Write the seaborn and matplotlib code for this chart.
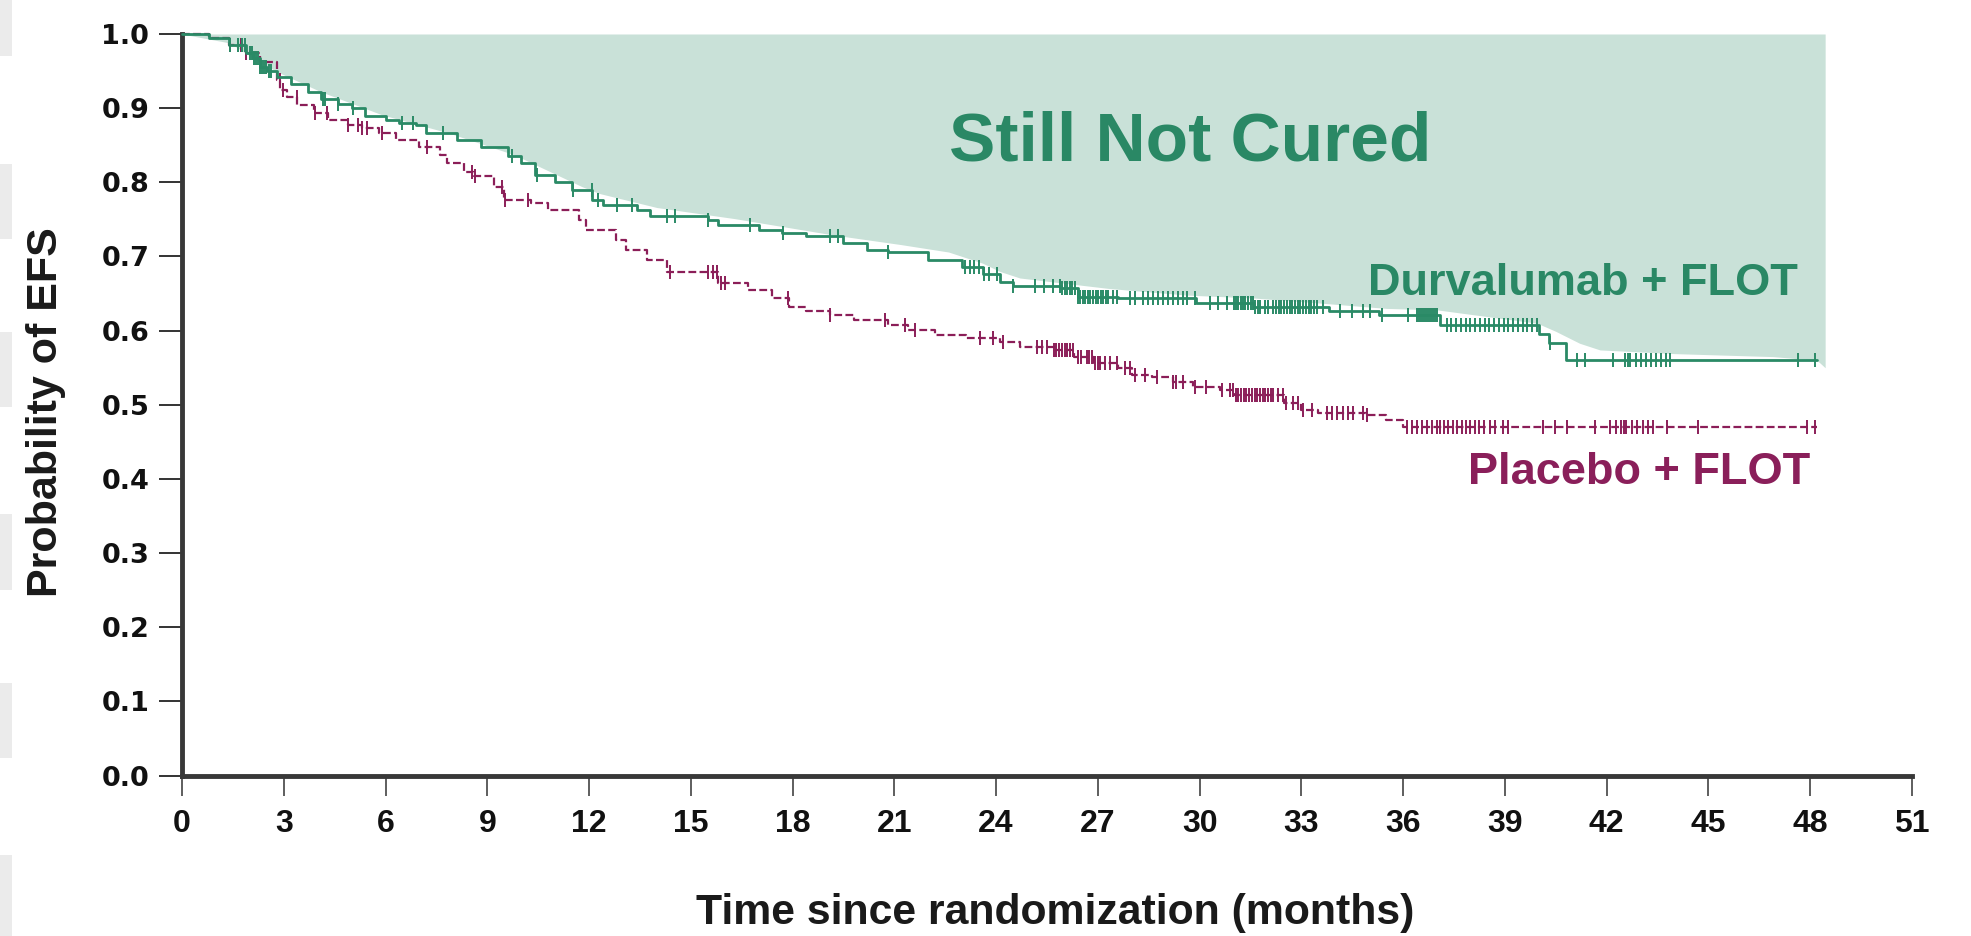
import numpy as np
import pandas as pd
import matplotlib
matplotlib.use("Agg")
import matplotlib.pyplot as plt
from matplotlib.patches import Rectangle
import seaborn as sns

# Kaplan-Meier event-free survival estimates (step points)
durva_t = [0, 0.8, 1.4, 1.9, 2.1, 2.3, 2.5, 2.8, 3.2, 3.7, 4.1, 4.6, 5.0, 5.4, 6.0, 6.4,
           6.9, 7.2, 8.1, 8.8, 9.6, 10.0, 10.4, 11.0, 11.5, 12.1, 12.4, 13.4, 13.8, 15.5,
           15.8, 17.0, 17.7, 18.4, 19.5, 20.2, 20.8, 22.0, 23.0, 23.6, 24.1, 24.5, 25.9,
           26.4, 27.6, 29.9, 31.6, 33.8, 35.3, 37.1, 40.0, 40.3, 40.8, 48.2]
durva_s = [1.0, 0.995, 0.985, 0.975, 0.968, 0.956, 0.950, 0.942, 0.932, 0.922, 0.913, 0.905,
           0.900, 0.889, 0.884, 0.880, 0.877, 0.866, 0.857, 0.848, 0.835, 0.826, 0.810, 0.800,
           0.790, 0.776, 0.769, 0.763, 0.755, 0.749, 0.742, 0.736, 0.731, 0.727, 0.718, 0.709,
           0.706, 0.695, 0.686, 0.677, 0.666, 0.660, 0.657, 0.646, 0.644, 0.637, 0.632, 0.626,
           0.621, 0.608, 0.596, 0.583, 0.560, 0.560]

placebo_t = [0, 0.8, 1.4, 1.9, 2.3, 2.8, 2.9, 3.1, 3.4, 3.9, 4.3, 4.9, 5.3, 5.8, 6.3, 7.0,
             7.6, 7.8, 8.3, 8.6, 9.2, 9.5, 10.3, 10.8, 11.7, 11.9, 12.8, 13.1, 13.7, 14.3,
             15.8, 16.7, 17.4, 17.9, 18.4, 19.1, 19.8, 20.8, 21.4, 22.2, 23.1, 24.1, 24.7,
             25.7, 26.3, 26.9, 27.6, 28.0, 28.6, 29.2, 29.8, 30.6, 31.0, 32.5, 33.0, 33.5,
             34.9, 35.5, 36.0, 48.2]
placebo_s = [1.0, 0.995, 0.985, 0.975, 0.962, 0.938, 0.924, 0.915, 0.904, 0.893, 0.884,
             0.877, 0.873, 0.866, 0.857, 0.848, 0.837, 0.826, 0.814, 0.808, 0.794, 0.776,
             0.772, 0.763, 0.749, 0.736, 0.722, 0.709, 0.695, 0.679, 0.664, 0.655, 0.644,
             0.632, 0.626, 0.621, 0.614, 0.608, 0.601, 0.594, 0.590, 0.585, 0.578, 0.574,
             0.565, 0.556, 0.549, 0.540, 0.538, 0.531, 0.524, 0.520, 0.513, 0.502, 0.493,
             0.489, 0.486, 0.480, 0.470, 0.470]

# Censoring times (months)
durva_censor = [
    1.42, 1.65, 1.76, 1.86, 2.00, 2.06, 2.12, 2.18, 2.24, 2.30, 2.36, 2.42, 2.48, 2.55, 2.62,
    4.17, 4.22, 4.61, 5.05, 6.48, 6.82, 7.70, 9.72, 10.46, 11.54, 12.08, 12.27,
    12.82, 13.26, 14.29, 14.53, 15.52, 16.75, 17.73, 19.10, 19.35, 20.82,
    23.08, 23.22, 23.36, 23.50, 23.64, 23.80, 24.02, 24.50,
    25.15, 25.40, 25.69, 25.87, 25.95, 26.03, 26.10, 26.18, 26.25, 26.33, 26.40, 26.48,
    26.55, 26.63, 26.70, 26.78, 26.85, 26.93, 27.00, 27.08, 27.15, 27.23, 27.30,
    27.46, 27.56, 27.95, 28.10, 28.34, 28.48, 28.63, 28.78, 28.92, 29.07, 29.22, 29.36,
    29.50, 29.62, 29.86, 30.30, 30.55, 30.80, 31.00, 31.07, 31.14, 31.21, 31.28, 31.35,
    31.42, 31.50, 31.57, 31.64, 31.71, 31.78, 31.93, 32.02, 32.17, 32.25, 32.33, 32.41,
    32.49, 32.57, 32.65, 32.73, 32.81, 32.89, 32.97, 33.05, 33.13, 33.21, 33.29, 33.37,
    33.45, 33.65, 34.14, 34.48, 34.83, 35.02, 35.37, 36.15, 36.40, 36.46, 36.52, 36.58,
    36.64, 36.70, 36.76, 36.82, 36.88, 36.94, 37.00, 37.28, 37.42, 37.56, 37.70, 37.84,
    37.98, 38.12, 38.26, 38.40, 38.54, 38.68, 38.82, 38.96, 39.10, 39.24, 39.38, 39.52,
    39.66, 39.80, 39.94, 40.33, 41.12, 41.36, 42.20, 42.54, 42.62, 42.70, 42.85, 43.00,
    43.15, 43.30, 43.45, 43.60, 43.75, 43.87, 47.65, 48.15]
placebo_censor = [
    1.42, 1.73, 1.90, 2.89, 2.99, 3.38, 3.92, 4.27, 4.90, 5.20, 5.30, 5.44, 5.89, 7.21,
    8.54, 8.64, 9.42, 9.52, 10.21, 14.39, 15.52, 15.64, 15.76, 15.88, 16.00, 17.87, 19.10,
    20.73, 21.31, 21.61, 23.53, 23.92, 24.21, 25.20, 25.35, 25.50, 25.70, 25.78, 25.86,
    25.94, 26.02, 26.10, 26.18, 26.26, 26.40, 26.50, 26.67, 26.75, 26.83, 26.91, 26.99,
    27.06, 27.20, 27.36, 27.56, 27.80, 27.95, 28.10, 28.40, 28.73, 29.20, 29.30, 29.50,
    29.86, 30.20, 30.65, 30.90, 30.98, 31.06, 31.14, 31.22, 31.30, 31.38, 31.46, 31.54,
    31.62, 31.70, 31.78, 31.86, 31.94, 32.02, 32.10, 32.17, 32.30, 32.47, 32.56, 32.76,
    32.90, 33.06, 33.30, 33.75, 33.90, 34.06, 34.22, 34.38, 34.53, 34.83, 34.93, 36.10,
    36.25, 36.40, 36.55, 36.70, 36.85, 36.99, 37.08, 37.20, 37.33, 37.46, 37.59, 37.72,
    37.85, 37.98, 38.11, 38.24, 38.37, 38.56, 38.70, 38.95, 39.10, 40.13, 40.48, 40.82,
    41.66, 42.10, 42.26, 42.42, 42.50, 42.58, 42.74, 42.90, 43.06, 43.22, 43.37, 43.77,
    44.70, 47.90, 48.14]

# Upper shaded "not cured" band boundary
cure_t = [0, 1.4, 2.3, 2.9, 4.1, 5.9, 7.9, 9.8, 11.8, 12.3, 14.0, 16.3, 19.2, 21.2, 22.6,
          23.6, 24.1, 24.7, 27.3, 29.6, 31.6, 33.6, 35.5, 37.0, 39.95, 40.5, 41.2, 41.8,
          44.0, 46.9, 48.2, 48.44]
cure_p = [1.0, 0.988, 0.962, 0.947, 0.922, 0.891, 0.866, 0.837, 0.794, 0.785, 0.766, 0.751,
          0.729, 0.716, 0.706, 0.691, 0.680, 0.671, 0.657, 0.648, 0.644, 0.637, 0.630, 0.628,
          0.610, 0.599, 0.583, 0.574, 0.569, 0.565, 0.560, 0.550]

x_ticks = list(range(0, 52, 3))
y_ticks = [0.0, 0.1, 0.2, 0.3, 0.4, 0.5, 0.6, 0.7, 0.8, 0.9, 1.0]

GREEN = "#2a8a66"
MAGENTA = "#8b1e58"
FILL = "#c9e1d8"
NARROW = ["Liberation Sans Narrow", "Liberation Sans", "DejaVu Sans"]
SANS = ["Liberation Sans", "DejaVu Sans"]

sns.set_theme(style="white")
plt.rcParams["font.family"] = SANS

fig = plt.figure(figsize=(19.71, 9.36), dpi=100)
ax = fig.add_axes([182 / 1971, 1 - 775.6 / 936, 1730 / 1971, 741.6 / 936])

# light grey slivers along the left edge
for y0, y1 in [(0, 56), (164, 239), (332, 407), (514, 590), (683, 758), (855, 936)]:
    fig.patches.append(Rectangle((0, 1 - y1 / 936), 12 / 1971, (y1 - y0) / 936,
                                 transform=fig.transFigure, color="#ebebeb", lw=0, zorder=0))

ax.fill_between(cure_t, cure_p, 1.0, color=FILL, lw=0, zorder=0)

df = pd.concat([
    pd.DataFrame({"t": durva_t, "s": durva_s, "arm": "Durvalumab + FLOT"}),
    pd.DataFrame({"t": placebo_t, "s": placebo_s, "arm": "Placebo + FLOT"}),
])
sns.lineplot(data=df[df.arm == "Durvalumab + FLOT"], x="t", y="s", color=GREEN,
             lw=2.0, drawstyle="steps-post", estimator=None, sort=False, ax=ax,
             legend=False, zorder=3, clip_on=False)
sns.lineplot(data=df[df.arm == "Placebo + FLOT"], x="t", y="s", color=MAGENTA,
             lw=1.6, drawstyle="steps-post", estimator=None, sort=False, ax=ax,
             legend=False, zorder=2, clip_on=False, dashes=False)
ax.lines[-1].set_dashes((3.5, 1.5))


def step_value(times, surv, at):
    idx = np.searchsorted(np.asarray(times), np.asarray(at), side="right") - 1
    return np.asarray(surv)[idx]


ax.plot(placebo_censor, step_value(placebo_t, placebo_s, placebo_censor), ls="none",
        marker="|", ms=10, mew=1.4, color=MAGENTA, zorder=2, clip_on=False)
ax.plot(durva_censor, step_value(durva_t, durva_s, durva_censor), ls="none",
        marker="|", ms=10, mew=1.4, color=GREEN, zorder=3, clip_on=False)

ax.text(29.73, 0.830, "Still Not Cured", color="#2a8865", fontsize=50,
        fontweight="bold", family=NARROW, ha="center", va="baseline")
ax.text(47.64, 0.648, "Durvalumab + FLOT", color="#2a8865", fontsize=32.5,
        fontweight="bold", family=NARROW, ha="right", va="baseline")
ax.text(48.0, 0.393, "Placebo + FLOT", color="#8a1f5a", fontsize=32.5,
        fontweight="bold", family=NARROW, ha="right", va="baseline")

ax.set_xlim(0, 51)
ax.set_ylim(0, 1.0)
ax.set_xticks(x_ticks)
ax.set_xticklabels([str(v) for v in x_ticks], fontsize=23, fontweight="bold",
                   family=SANS, color="#111111")
ax.set_yticks(y_ticks)
ax.set_yticklabels([f"{v:.1f}" for v in y_ticks], fontsize=19.5, fontweight="bold",
                   family=["DejaVu Sans"], color="#111111")
ax.tick_params(axis="x", direction="out", length=14.4, width=1.1, color="#333333",
               pad=10, bottom=True)
ax.tick_params(axis="y", direction="out", length=16.5, width=1.4, color="#333333",
               pad=7, left=True)

for side in ["top", "right"]:
    ax.spines[side].set_visible(False)
for side in ["left", "bottom"]:
    ax.spines[side].set_linewidth(3.5)
    ax.spines[side].set_color("#383838")

ax.set_xlabel("Time since randomization (months)", fontsize=30.8, fontweight="bold",
              family=SANS, color="#1a1a1a")
ax.xaxis.set_label_coords(0.5045, -0.1584)
ax.xaxis.label.set_va("top")
ax.set_ylabel("Probability of EFS", fontsize=31, fontweight="bold", family=SANS,
              color="#1a1a1a")
ax.yaxis.set_label_coords(-0.067, 0.49)

ax.set_facecolor("white")
fig.patch.set_facecolor("white")
fig.savefig("out.png", dpi=100)
